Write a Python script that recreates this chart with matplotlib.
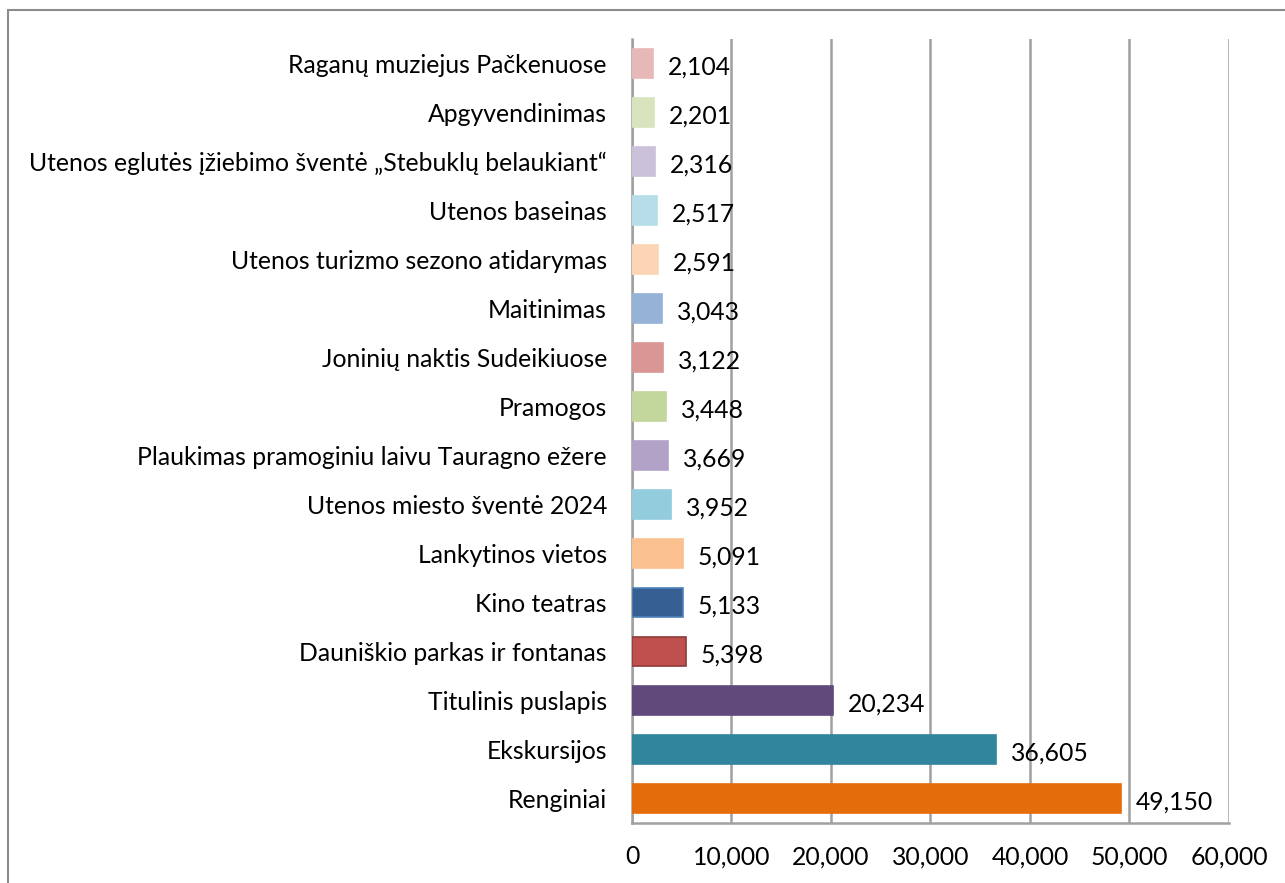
import matplotlib.pyplot as plt
from matplotlib.patches import Rectangle

categories = [
    "Raganų muziejus Pačkenuose",
    "Apgyvendinimas",
    "Utenos eglutės įžiebimo šventė „Stebuklų belaukiant“",
    "Utenos baseinas",
    "Utenos turizmo sezono atidarymas",
    "Maitinimas",
    "Joninių naktis Sudeikiuose",
    "Pramogos",
    "Plaukimas pramoginiu laivu Tauragno ežere",
    "Utenos miesto šventė 2024",
    "Lankytinos vietos",
    "Kino teatras",
    "Dauniškio parkas ir fontanas",
    "Titulinis puslapis",
    "Ekskursijos",
    "Renginiai",
]
values = [2104, 2201, 2316, 2517, 2591, 3043, 3122, 3448, 3669, 3952,
          5091, 5133, 5398, 20234, 36605, 49150]
colors = ["#E6B9B8", "#D7E4BD", "#CCC1DA", "#B7DEE8", "#FCD5B5", "#95B3D7",
          "#D99694", "#C3D69B", "#B3A2C7", "#93CDDD", "#FAC090", "#376092",
          "#C0504D", "#604A7B", "#31859C", "#E46C0A"]
edges = colors[:]
edges[11] = "#4F81BD"
edges[12] = "#8E3B39"
xticks = [0, 10000, 20000, 30000, 40000, 50000, 60000]

plt.rcParams['font.family'] = ['Lato', 'DejaVu Sans']
fs = 17.8

fig = plt.figure(figsize=(12.85, 8.83), dpi=100)
ax = fig.add_axes([0.4918, 0.068, 0.4646, 0.8878])

y = list(range(len(categories)))
ax.barh(y, values, height=0.6, color=colors, edgecolor=edges, linewidth=1.2, zorder=3)

for yi, v in zip(y, values):
    ax.text(v + 1500, yi + 0.08, f"{v:,}", va='center', ha='left', fontsize=fs, zorder=4)

ax.set_xlim(0, 60000)
ax.set_ylim(len(categories) - 0.5, -0.5)
ax.set_yticks(y)
ax.set_yticklabels(categories, fontsize=fs)
ax.set_xticks(xticks)
ax.set_xticklabels([f"{t:,}" for t in xticks], fontsize=fs)
ax.tick_params(axis='y', length=0, pad=18)
ax.tick_params(axis='x', length=0, pad=16)

ax.grid(axis='x', color='#A0A0A0', linewidth=1.8, zorder=0)
for s in ['top', 'right']:
    ax.spines[s].set_visible(False)
for s in ['left', 'bottom']:
    ax.spines[s].set_color('#A0A0A0')
    ax.spines[s].set_linewidth(1.8)

# outer chart frame (cropped on the right and bottom)
fig.patches.append(Rectangle((8 / 1285, -0.1), 1.2, (873 / 883) + 0.1,
                             transform=fig.transFigure, fill=False,
                             edgecolor='#8C8C8C', linewidth=1.5))

fig.savefig('out.png', dpi=100)
